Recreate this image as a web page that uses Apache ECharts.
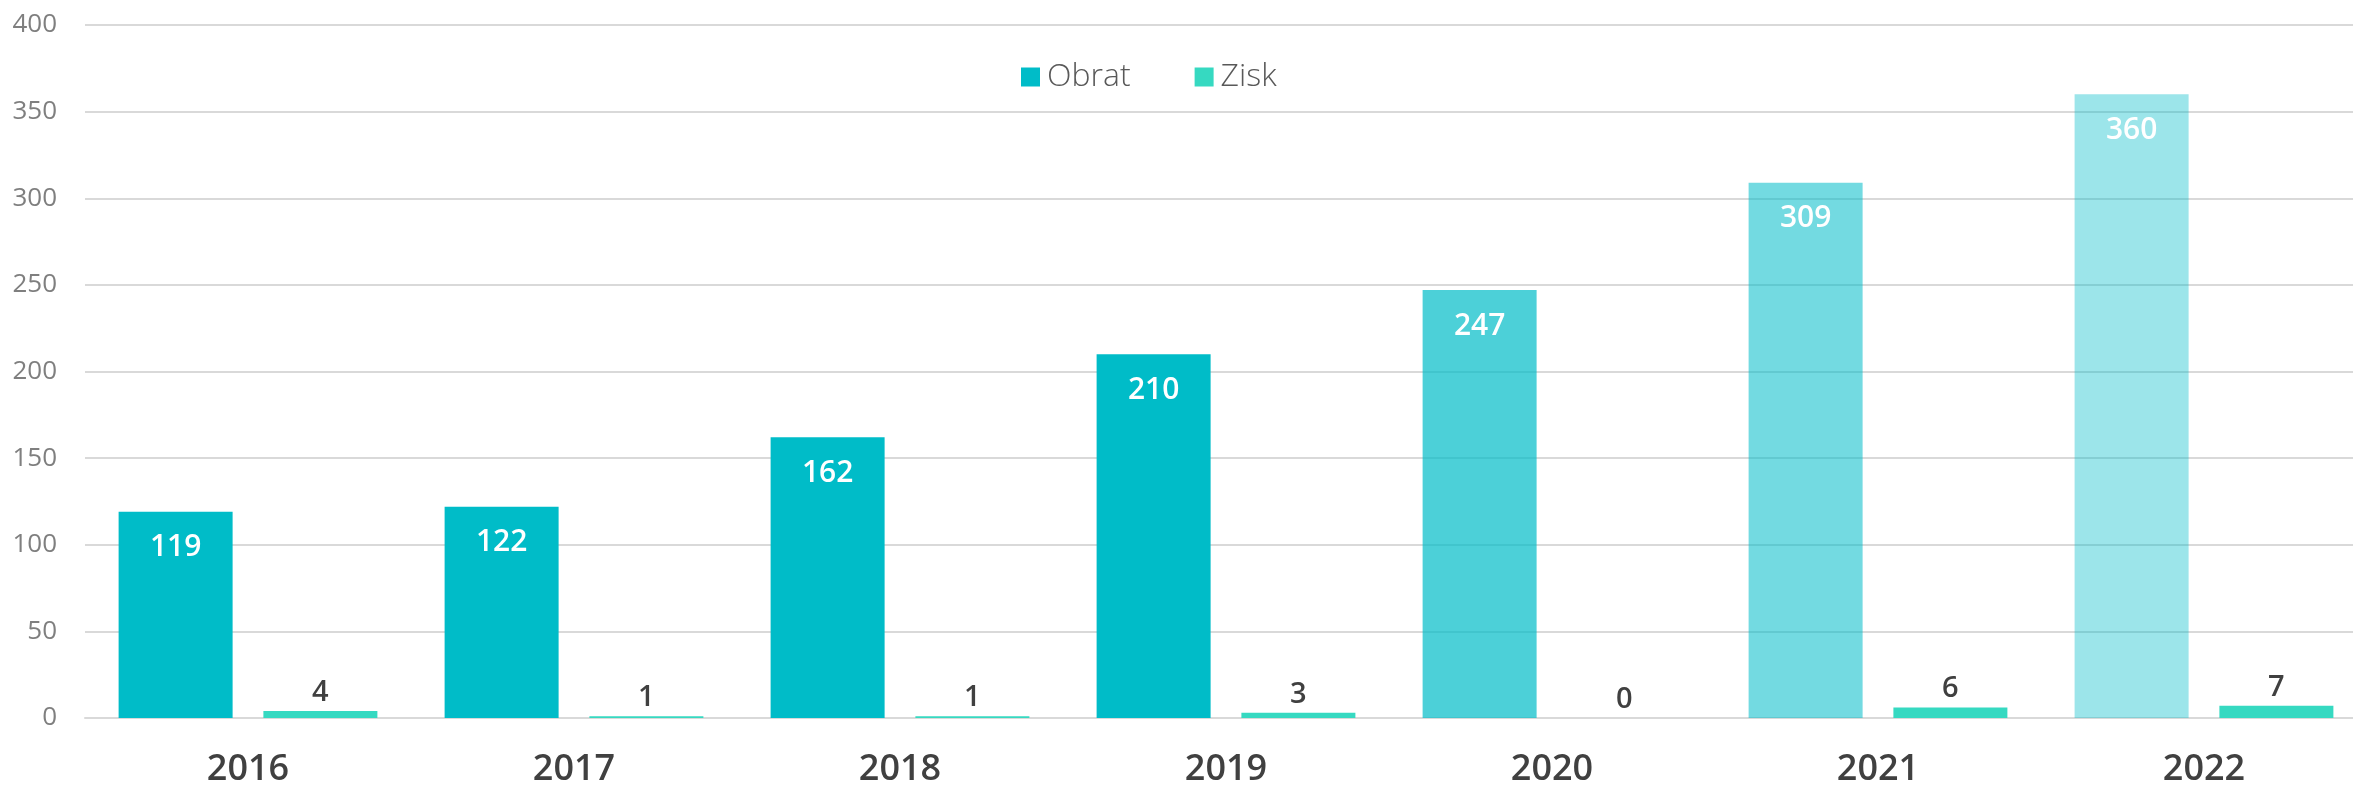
<!DOCTYPE html>
<html>
<head>
<meta charset="utf-8">
<script src="https://cdn.jsdelivr.net/npm/echarts@6/dist/echarts.min.js"></script>
<style>
html,body{margin:0;padding:0;overflow:hidden;background:#fff;}
#chart{width:2367px;height:791px;}
</style>
</head>
<body>
<div id="chart"></div>
<script>
const categories = ['2016','2017','2018','2019','2020','2021','2022'];
const obrat = [119, 122, 162, 210, 247, 309, 360];
const zisk = [4, 1, 1, 3, 0, 6, 7];
const yTicks = {min: 0, max: 400, interval: 50};
const obratOpacity = [1, 1, 1, 1, 0.7, 0.55, 0.39];

const FONT = '"Open Sans", "Noto Sans", sans-serif';
const chart = echarts.init(document.getElementById('chart'), null, {renderer: 'canvas'});
chart.setOption({
  animation: false,
  backgroundColor: '#ffffff',
  textStyle: {fontFamily: FONT},
  legend: {
    data: ['Obrat', 'Zisk'],
    left: 1016,
    top: 56,
    itemWidth: 19,
    itemHeight: 19,
    itemGap: 64,
    icon: 'rect',
    textStyle: {fontFamily: FONT, fontSize: 32, fontWeight: 300, color: '#595959', padding: [0, 0, 0, 2]}
  },
  grid: {left: 85, right: 0, top: 25, bottom: 73, containLabel: false},
  xAxis: {
    type: 'category',
    data: categories,
    axisLine: {show: true, lineStyle: {color: '#d9d9d9', width: 2}},
    axisTick: {show: false},
    axisLabel: {fontFamily: FONT, fontSize: 36, fontWeight: 600, color: '#404040', margin: 34}
  },
  yAxis: {
    type: 'value',
    min: yTicks.min, max: yTicks.max, interval: yTicks.interval,
    axisLine: {show: false},
    axisTick: {show: false},
    splitLine: {lineStyle: {color: '#d9d9d9', width: 2}},
    axisLabel: {fontFamily: FONT, fontSize: 26, color: '#7f7f7f', margin: 28}
  },
  series: [
    {
      name: 'Obrat',
      type: 'bar',
      barWidth: 114,
      barGap: '27%',
      itemStyle: {color: '#00bcc8'},
      data: obrat.map((v, i) => ({value: v, itemStyle: {color: 'rgba(0,188,200,' + obratOpacity[i] + ')'}})),
      label: {show: true, position: 'insideTop', distance: 21, color: '#ffffff',
        fontFamily: FONT, fontSize: 30, fontWeight: 600}
    },
    {
      name: 'Zisk',
      type: 'bar',
      barWidth: 114,
      itemStyle: {color: '#36d9c1'},
      data: zisk,
      label: {show: true, position: 'top', distance: 4, color: '#404040',
        fontFamily: FONT, fontSize: 29, fontWeight: 600}
    }
  ]
});
</script>
</body>
</html>
